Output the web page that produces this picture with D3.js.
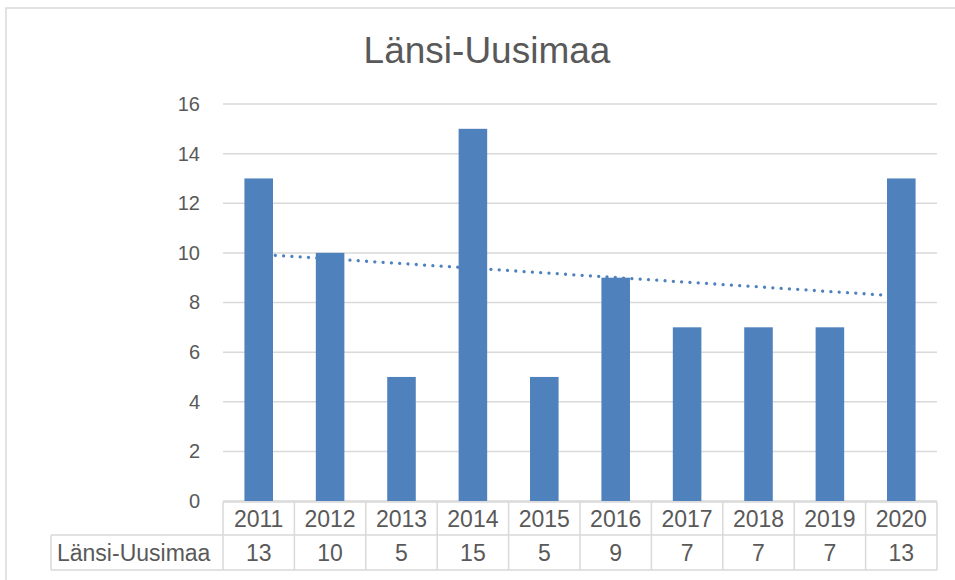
<!DOCTYPE html>
<html>
<head>
<meta charset="utf-8">
<script src="https://cdn.jsdelivr.net/npm/d3@7"></script>
<style>
  body { margin: 0; background: #fff; }
  text { font-family: "Liberation Sans", Arial, sans-serif; fill: #595959; }
</style>
</head>
<body>
<div id="chart"></div>
<script>
// chart data
var years = ["2011", "2012", "2013", "2014", "2015", "2016", "2017", "2018", "2019", "2020"];
var values = [13, 10, 5, 15, 5, 9, 7, 7, 7, 13];
var seriesName = "Länsi-Uusimaa";
var yTicks = [0, 2, 4, 6, 8, 10, 12, 14, 16];

var svgWidth = 955;
var svgHeight = 580;

var margin = { top: 104, left: 223, right: 18, bottom: 79 };
var width = svgWidth - margin.left - margin.right;
var height = svgHeight - margin.top - margin.bottom;

var svg = d3.select("#chart")
  .append("svg")
  .attr("width", svgWidth)
  .attr("height", svgHeight);

// outer chart border (runs off the right/bottom of the picture)
svg.append("rect")
  .attr("x", 6)
  .attr("y", 8)
  .attr("width", 1200)
  .attr("height", 1200)
  .attr("fill", "none")
  .attr("stroke", "#d9d9d9")
  .attr("stroke-width", 1.5);

// title
svg.append("text")
  .attr("x", 487)
  .attr("y", 63)
  .attr("text-anchor", "middle")
  .style("font-size", "37px")
  .text(seriesName);

var chartGroup = svg.append("g")
  .attr("transform", `translate(${margin.left}, ${margin.top})`);

var xScale = d3.scaleBand()
  .domain(years)
  .range([0, width])
  .paddingInner(0.6)
  .paddingOuter(0.3);

var yScale = d3.scaleLinear()
  .domain([0, 16])
  .range([height, 0]);

// gridlines
chartGroup.append("g")
  .selectAll("line")
  .data(yTicks)
  .enter()
  .append("line")
  .attr("x1", 0)
  .attr("x2", width)
  .attr("y1", d => yScale(d))
  .attr("y2", d => yScale(d))
  .attr("stroke", "#d9d9d9")
  .attr("stroke-width", 1.5);

// y axis labels
var leftAxis = d3.axisLeft(yScale).tickValues(yTicks).tickSize(0).tickPadding(23);
var yAxis = chartGroup.append("g").call(leftAxis);
yAxis.select(".domain").remove();
yAxis.selectAll("text")
  .style("font-size", "20px")
  .attr("fill", "#595959");

// linear trendline (least squares on the values)
var xm = d3.mean(values, (d, i) => i + 1);
var ym = d3.mean(values);
var sxy = d3.sum(values, (d, i) => (i + 1 - xm) * (d - ym));
var sxx = d3.sum(values, (d, i) => (i + 1 - xm) * (i + 1 - xm));
var slope = sxy / sxx;
var intercept = ym - slope * xm;
var trend = years.map((y, i) => ({ year: y, value: intercept + slope * (i + 1) }));

chartGroup.append("path")
  .datum(trend)
  .attr("fill", "none")
  .attr("stroke", "#4f81bd")
  .attr("stroke-width", 3.3)
  .attr("stroke-linecap", "round")
  .attr("stroke-dasharray", "0.01 8.3")
  .attr("d", d3.line()
    .x(d => xScale(d.year) + xScale.bandwidth() / 2)
    .y(d => yScale(d.value)));

// bars
chartGroup.selectAll("rect.bar")
  .data(values)
  .enter()
  .append("rect")
  .attr("class", "bar")
  .attr("x", (d, i) => xScale(years[i]))
  .attr("y", d => yScale(d))
  .attr("width", xScale.bandwidth())
  .attr("height", d => height - yScale(d))
  .attr("fill", "#4f81bd");

// data table
var row1Top = height + 1;
var row2Top = row1Top + 33;
var row2Bottom = row2Top + 35;
var labelLeft = 51 - margin.left;
var table = chartGroup.append("g");
var step = xScale.step();
var colEdges = years.map((y, i) => i * step).concat([width]);

function hline(y, x1) {
  table.append("line")
    .attr("x1", x1).attr("x2", width)
    .attr("y1", y).attr("y2", y)
    .attr("stroke", "#d9d9d9").attr("stroke-width", 1.5);
}
hline(row1Top, 0);
hline(row2Top, labelLeft);
hline(row2Bottom, labelLeft);

table.selectAll("line.col")
  .data(colEdges)
  .enter()
  .append("line")
  .attr("class", "col")
  .attr("x1", d => d).attr("x2", d => d)
  .attr("y1", row1Top).attr("y2", row2Bottom)
  .attr("stroke", "#d9d9d9").attr("stroke-width", 1.5);

table.append("line")
  .attr("x1", labelLeft).attr("x2", labelLeft)
  .attr("y1", row2Top).attr("y2", row2Bottom)
  .attr("stroke", "#d9d9d9").attr("stroke-width", 1.5);

table.selectAll("text.year")
  .data(years)
  .enter()
  .append("text")
  .attr("class", "year")
  .attr("x", d => xScale(d) + xScale.bandwidth() / 2)
  .attr("y", (row1Top + row2Top) / 2)
  .attr("dy", "0.36em")
  .attr("text-anchor", "middle")
  .style("font-size", "23px")
  .text(d => d);

table.selectAll("text.val")
  .data(values)
  .enter()
  .append("text")
  .attr("class", "val")
  .attr("x", (d, i) => xScale(years[i]) + xScale.bandwidth() / 2)
  .attr("y", (row2Top + row2Bottom) / 2)
  .attr("dy", "0.36em")
  .attr("text-anchor", "middle")
  .style("font-size", "23px")
  .text(d => d);

table.append("text")
  .attr("x", labelLeft + 6)
  .attr("y", (row2Top + row2Bottom) / 2)
  .attr("dy", "0.36em")
  .style("font-size", "23px")
  .text(seriesName);
</script>
</body>
</html>
